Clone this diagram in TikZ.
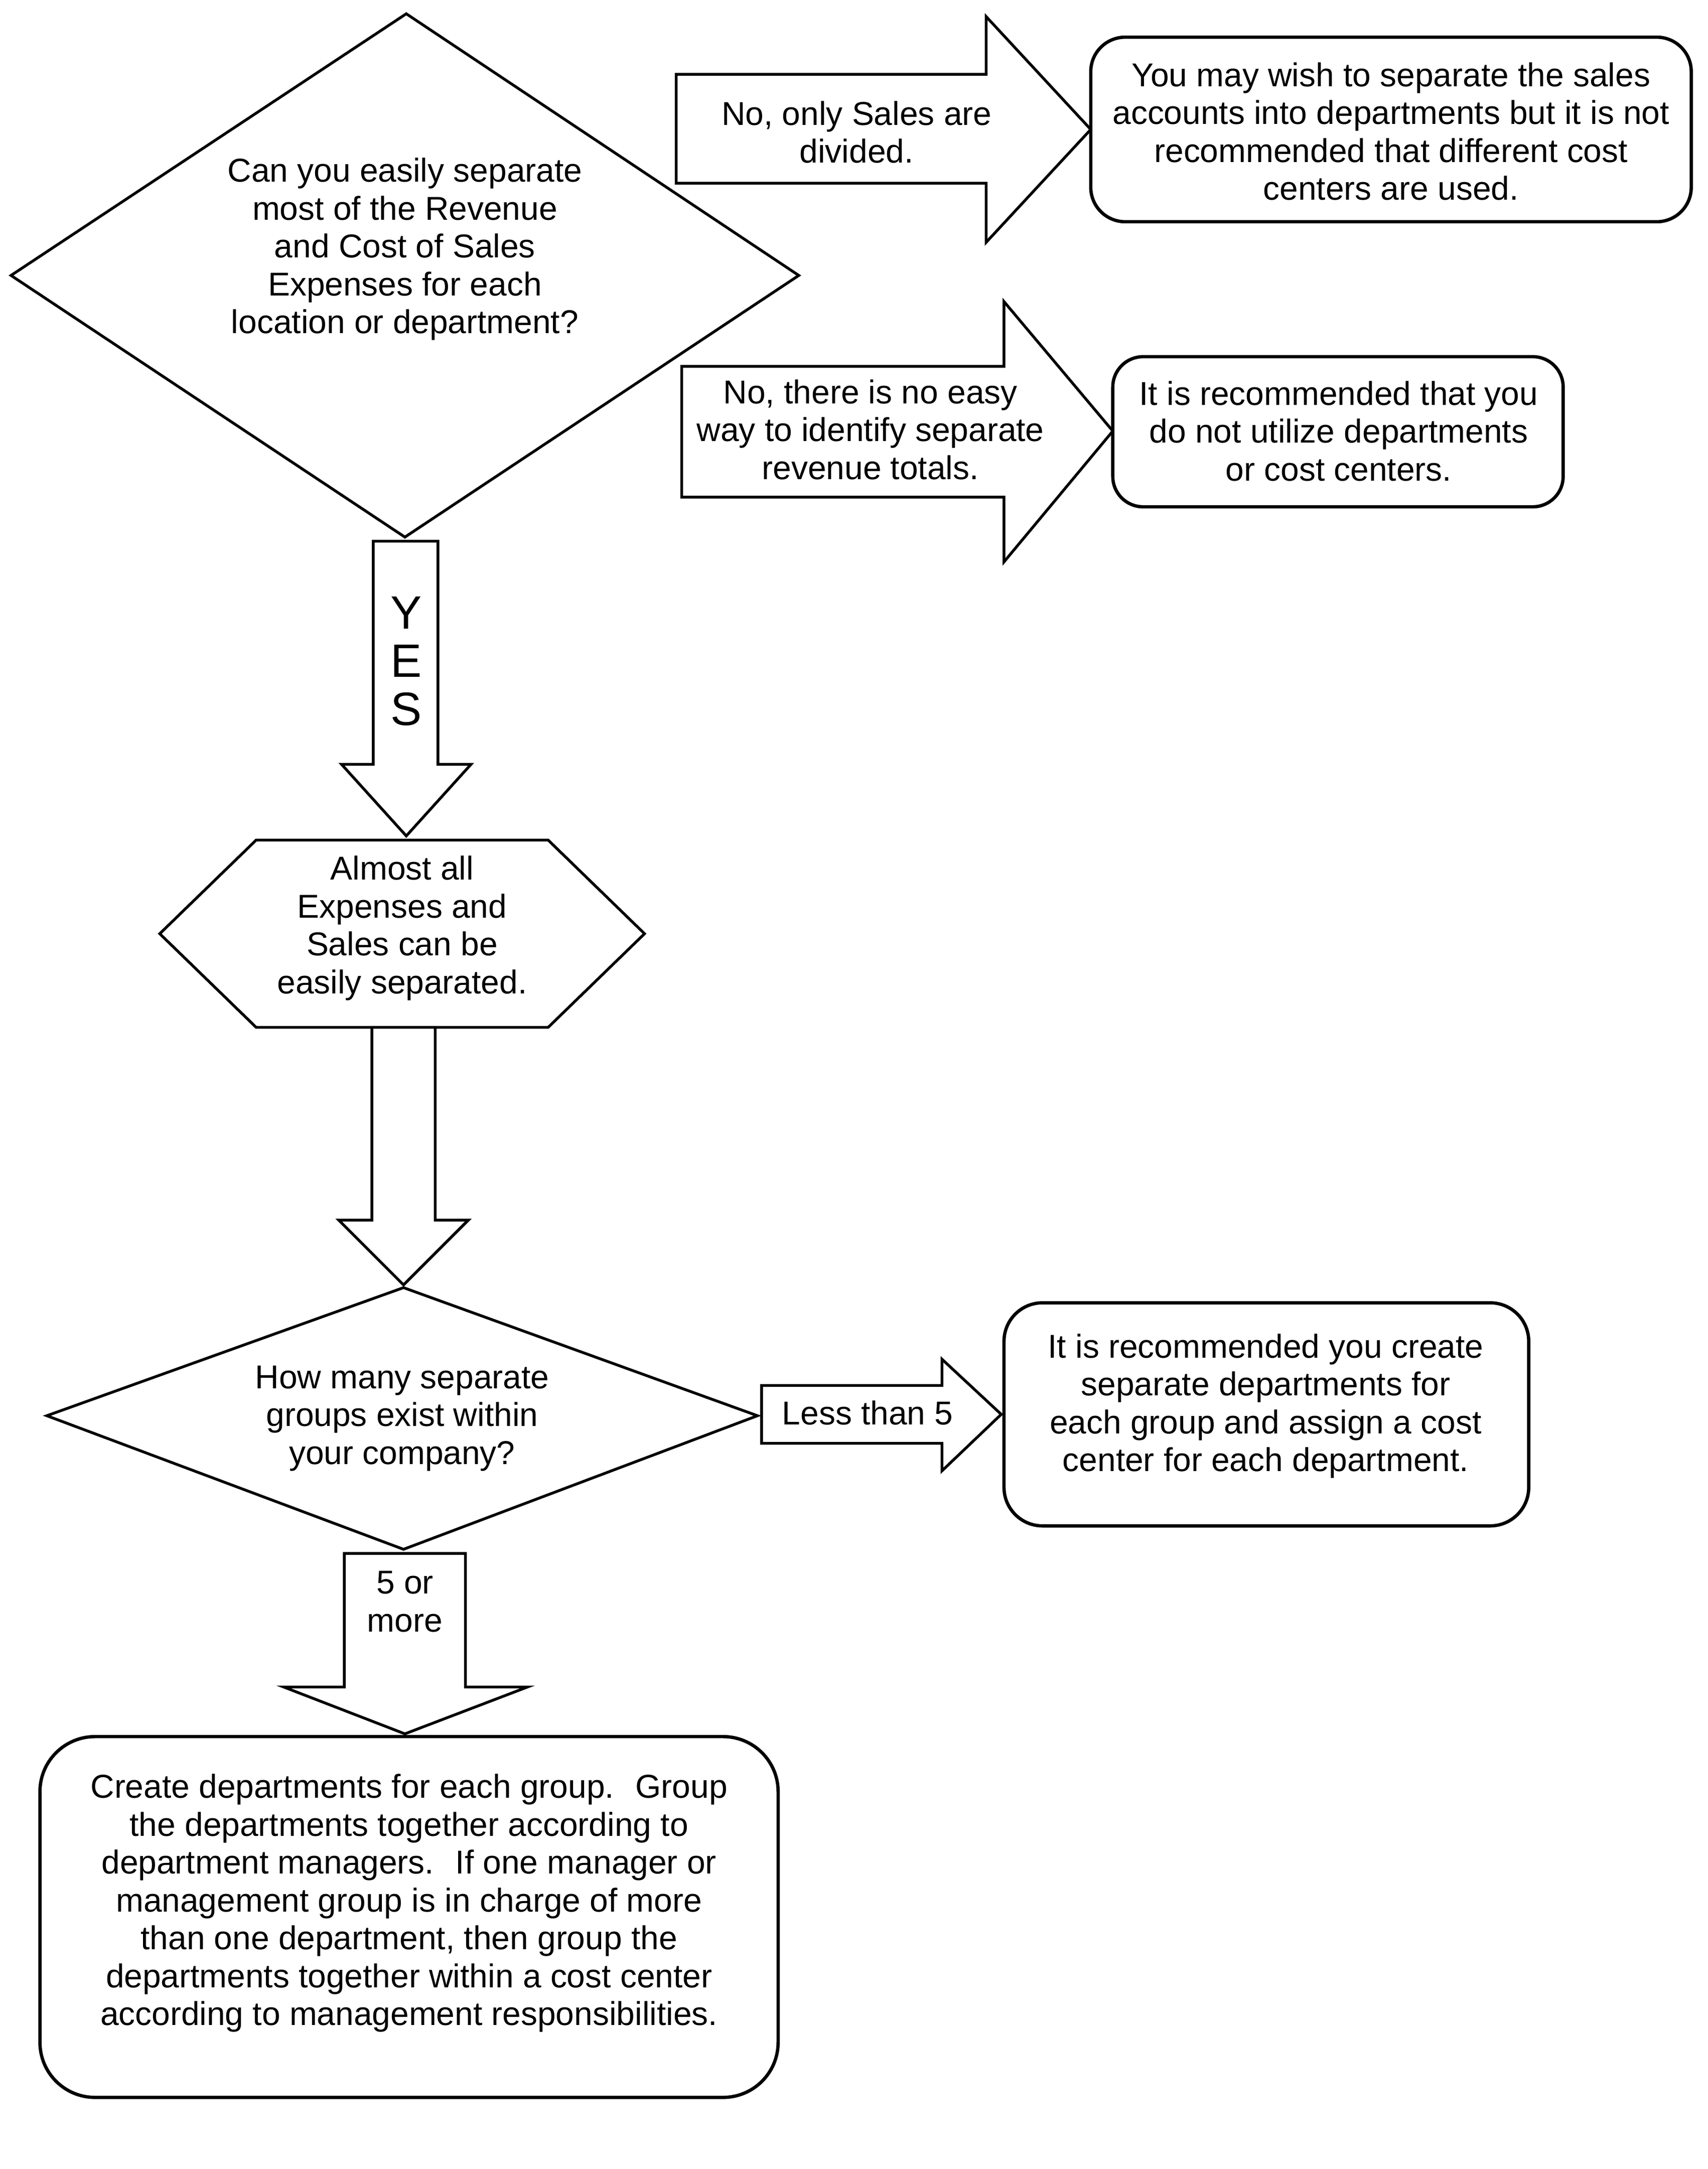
\documentclass[tikz,border=0pt]{standalone}
\usepackage{fontspec}
\setmainfont{Liberation Sans}
\begin{document}
\begin{tikzpicture}[x=0.5pt,y=-0.5pt, line join=miter,
  shp/.style={draw=black, line width=1pt, fill=white},
  rbox/.style={draw=black, line width=1.2pt, fill=white},
  txt/.style={align=center, font=\fontsize{12}{13.75}\selectfont, inner sep=0pt}]
\fill[white] (0,0) rectangle (1240,1575);
\useasboundingbox (0,0) rectangle (1240,1575);

% first decision
\draw[shp] (295,10) -- (580,200) -- (294,390) -- (8,200) -- cycle;
\node[txt] (q1) at (294,181) {Can you easily separate\\most of the Revenue\\and Cost of Sales\\Expenses for each\\location or department?};

% arrow: No, only Sales are divided
\draw[shp] (491,54) -- (716,54) -- (716,12) -- (792,94) -- (716,176) -- (716,133) -- (491,133) -- cycle;
\node[txt] (a1) at (622,96) {No, only Sales are\\divided.};

\draw[rbox, rounded corners=12.5pt] (792,27) rectangle (1228,161);
\node[txt] (b1) at (1010,95.5) {You may wish to separate the sales\\accounts into departments but it is not\\recommended that different cost\\centers are used.};

% arrow: No, there is no easy way
\draw[shp] (495,266) -- (729,266) -- (729,219) -- (808,313) -- (729,408) -- (729,361) -- (495,361) -- cycle;
\node[txt] (a2) at (632,312) {No, there is no easy\\way to identify separate\\revenue totals.};

\draw[rbox, rounded corners=11pt] (808,259) rectangle (1135,368);
\node[txt] (b2) at (972,313) {It is recommended that you\\do not utilize departments\\or cost centers.};

% YES arrow
\draw[shp] (271,393) -- (318,393) -- (318,555) -- (342,555) -- (295,607) -- (248,555) -- (271,555) -- cycle;
\node[align=center, inner sep=0pt, font=\fontsize{17}{17.5}\selectfont] (yes) at (295,480) {Y\\E\\S};

% hexagon
\draw[shp] (116,678) -- (186,610) -- (398,610) -- (468,678) -- (398,746) -- (186,746) -- cycle;
\node[txt] (h) at (292,674) {Almost all\\Expenses and\\Sales can be\\easily separated.};

% arrow down from hexagon
\draw[shp] (270,746) -- (316,746) -- (316,886) -- (340,886) -- (293,933) -- (246,886) -- (270,886) -- cycle;

% second decision
\draw[shp] (293,935) -- (550,1028) -- (293,1125) -- (34,1028) -- cycle;
\node[txt] (q2) at (292,1030) {How many separate\\groups exist within\\your company?};

% Less than 5 arrow
\draw[shp] (553,1006) -- (684,1006) -- (684,987) -- (727,1027) -- (684,1068) -- (684,1048) -- (553,1048) -- cycle;
\node[txt] (less) at (630,1026) {Less than 5};

\draw[rbox, rounded corners=14pt] (729,946) rectangle (1110,1108);
\node[txt] (b3) at (919,1021) {It is recommended you create\\separate departments for\\each group and assign a cost\\center for each department.};

% 5 or more arrow
\draw[shp] (250,1128) -- (338,1128) -- (338,1225) -- (383,1225) -- (294,1259) -- (206,1225) -- (250,1225) -- cycle;
\node[txt] (five) at (294,1163) {5 or\\more};

\draw[rbox, rounded corners=20pt] (29,1261) rectangle (565,1523);
\node[txt] (b4) at (297,1382) {Create departments for each group.~ Group\\the departments together according to\\department managers.~ If one manager or\\management group is in charge of more\\than one department, then group the\\departments together within a cost center\\according to management responsibilities.};
\end{tikzpicture}
\end{document}
